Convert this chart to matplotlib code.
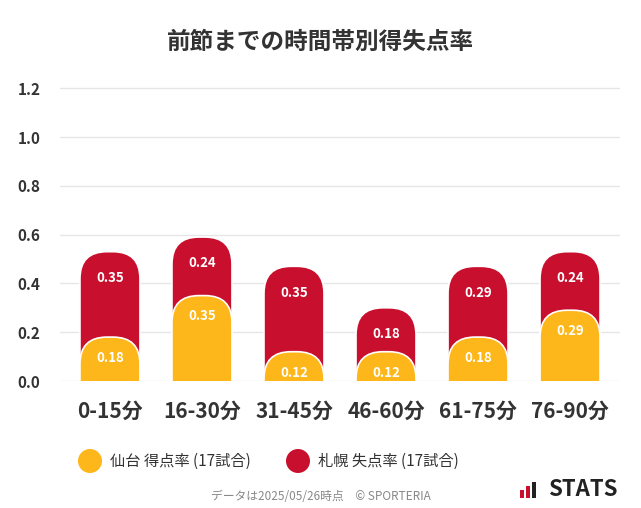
import matplotlib
matplotlib.use("Agg")
import matplotlib.pyplot as plt
from matplotlib.patches import FancyBboxPatch, Ellipse, Rectangle

plt.rcParams["font.family"] = "Noto Sans CJK JP"

categories = ["0-15分", "16-30分", "31-45分", "46-60分", "61-75分", "76-90分"]
sendai_for = [0.18, 0.35, 0.12, 0.12, 0.18, 0.29]
sapporo_against = [0.35, 0.24, 0.35, 0.18, 0.29, 0.24]
yticks = [0.0, 0.2, 0.4, 0.6, 0.8, 1.0, 1.2]

yellow = "#FDB71A"
red = "#C8102E"

fig = plt.figure(figsize=(6.41, 5.08), dpi=100)
ax = fig.add_axes([60 / 641, 127 / 508, 560 / 641, 305 / 508])
ax.set_xlim(-0.543, 5.543)
ax.set_ylim(0, 1.25)

w = 60 / 92
rs = 27 / 92
asp = (92 / 244)

def rbar(x, top, color):
    p = FancyBboxPatch((x - w / 2, -0.3), w, top + 0.3,
                       boxstyle=f"round,pad=0,rounding_size={rs}",
                       mutation_aspect=asp, fc=color, ec="white", lw=1.2,
                       zorder=3)
    ax.add_patch(p)

for i, (a, b) in enumerate(zip(sendai_for, sapporo_against)):
    rbar(i, a + b, red)
    rbar(i, a, yellow)
    ax.annotate(f"{b:.2f}", (i, a + b), xytext=(0, -19), textcoords="offset points",
                ha="center", va="center", color="white", fontsize=9.5, fontweight="bold", zorder=5)
    ax.annotate(f"{a:.2f}", (i, a), xytext=(0, -15), textcoords="offset points",
                ha="center", va="center", color="white", fontsize=9.5, fontweight="bold", zorder=5)

ax.set_yticks(yticks)
ax.set_yticklabels([f"{v:.1f}" for v in yticks], fontsize=11, fontweight="bold", color="#333333")
ax.set_xticks(range(len(categories)))
ax.set_xticklabels(categories, fontsize=15, fontweight="bold", color="#333333")
ax.tick_params(length=0)
ax.tick_params(axis="x", pad=14)
ax.tick_params(axis="y", pad=14)
ax.grid(axis="y", color="#e6e6e6", lw=1, zorder=0)
ax.set_axisbelow(True)
for s in ax.spines.values():
    s.set_visible(False)

fig.text(0.5, 1 - 42 / 508, "前節までの時間帯別得失点率", ha="center", va="center",
         fontsize=17, fontweight="bold", color="#333333")

# legend
for cx, col, lab in [(90, yellow, "仙台 得点率 (17試合)"), (298, red, "札幌 失点率 (17試合)")]:
    fig.patches.append(Ellipse((cx / 641, 1 - 461 / 508), 24 / 641, 24 / 508,
                               transform=fig.transFigure, fc=col, ec="none"))
    fig.text((cx + 20) / 641, 1 - 461 / 508, lab, ha="left", va="center", fontsize=11, color="#333333")

fig.text(0.5, 1 - 496 / 508, "データは2025/05/26時点　© SPORTERIA", ha="center", va="center",
         fontsize=8.5, color="#888888")

# STATS mark
for k, hgt in enumerate([8, 12, 16]):
    fig.patches.append(Rectangle(((520 + k * 6) / 641, 10 / 508), 4 / 641, hgt / 508,
                                 transform=fig.transFigure, fc=red if k < 2 else "#222222"))
fig.text(548 / 641, 1 - 489 / 508, "STATS", ha="left", va="center", fontsize=16,
         fontweight="bold", color="#222222")

fig.savefig("out.png", dpi=100)
